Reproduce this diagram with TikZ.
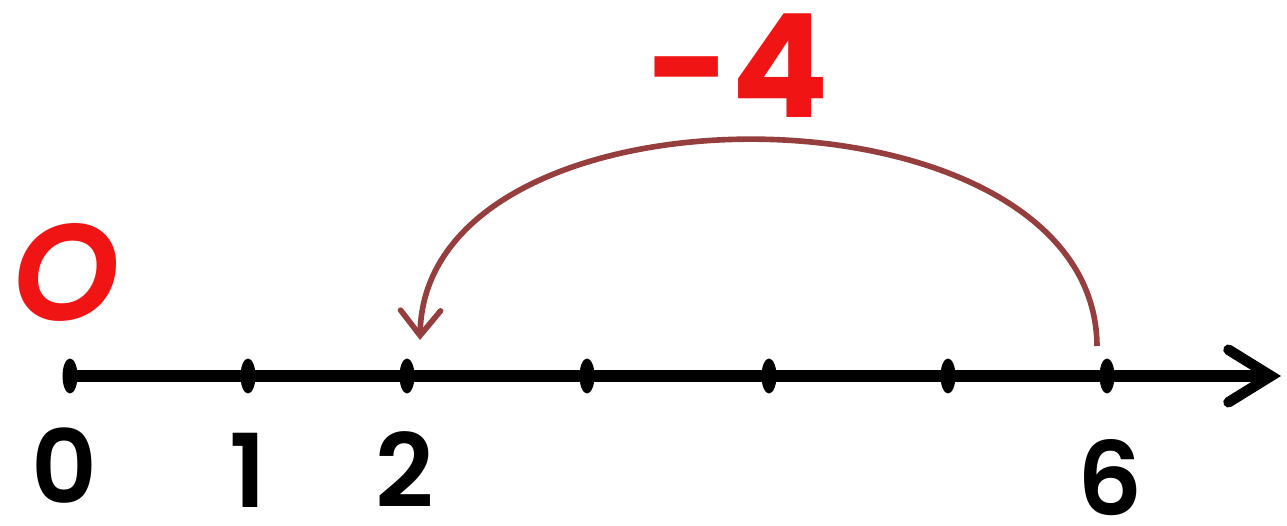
\documentclass[tikz,border=0pt]{standalone}
\usepackage{fontspec}
\setmainfont{Poppins}
\newfontfamily\semifont{Poppins SemiBold}
\usetikzlibrary{arrows.meta, shapes.geometric}
\definecolor{hopred}{RGB}{240,20,20}
\definecolor{arcbrown}{RGB}{150,62,62}

\begin{document}
\begin{tikzpicture}[x=0.02cm, y=-0.02cm,
	tickmark/.style={shape=ellipse, fill=black, inner sep=0pt, minimum width=0.3cm, minimum height=0.7cm},
	numlabel/.style={font=\fontsize{58}{58}\semifont, inner sep=0pt},
	redlabel/.style={text=hopred, inner sep=0pt},
	jump/.style={draw=arcbrown, line width=3.2pt, -{Straight Barb[length=0.5cm, width=0.8cm, line width=3.2pt, line cap=round]}}]
	\useasboundingbox (0, 0) rectangle (1287, 526);
	% Axis and tick marks:
	\coordinate (axstart) at (70, 376);
	\coordinate (axend) at (1281, 376);
	\draw[line width=6.5pt, -{Straight Barb[length=0.85cm, width=1.05cm, line width=6pt, line cap=round]}] (axstart) -- (axend);
	\foreach \name/\xpos in {t0/70, t1/248, t2/407, t3/587, t4/769, t5/948, t6/1107}
		\node[tickmark] (\name) at (\xpos, 376) {};
	% Numbers under the line:
	\node[numlabel] (n0) at (64, 466) {0};
	\node[numlabel] (n1) at (248, 470) {1};
	\node[numlabel] (n2) at (405, 470) {2};
	\node[numlabel] (n6) at (1110, 478) {6};
	% Origin and the jump:
	\node[redlabel, font=\fontsize{78}{78}\semifont\itshape] (origin) at (66, 272) {O};
	\node[redlabel, font=\fontsize{82}{82}\selectfont\bfseries] (minusfour) at (738, 66) {-4};
	\coordinate (jumpfrom) at (1097, 346);
	\coordinate (jumpto) at (420, 340);
	\draw[jump] (jumpfrom) .. controls (1095, 75) and (425, 70) .. (jumpto);
\end{tikzpicture}
\end{document}
